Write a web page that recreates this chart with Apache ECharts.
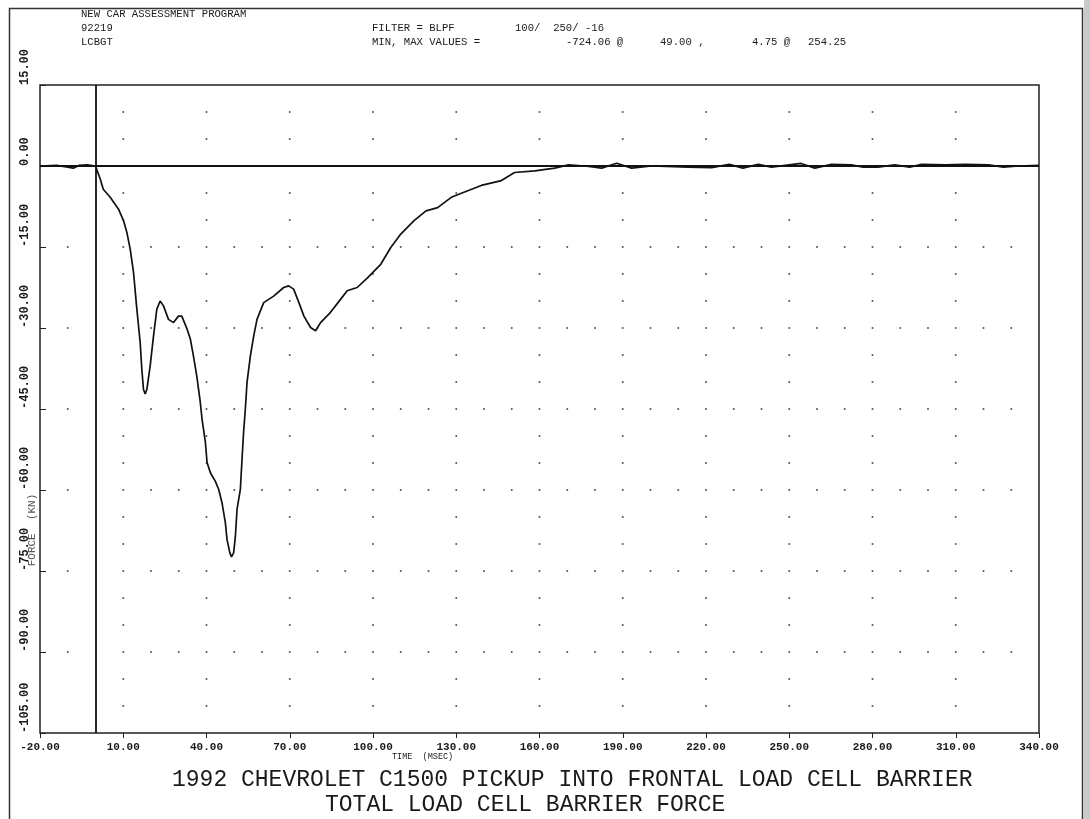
<!DOCTYPE html>
<html>
<head>
<meta charset="utf-8">
<script src="https://cdn.jsdelivr.net/npm/echarts@6/dist/echarts.min.js"></script>
<style>
html,body{margin:0;padding:0;background:#fff;}
#chart{width:1090px;height:819px;}
</style>
</head>
<body>
<div id="chart"></div>
<script>
// ---- data (time in ms, force as on the axis) ----
const timeMs = [-20,-14,-10,-8,-6,-3,0,1.7,2.8,5.3,8.3,10.1,11.3,12.5,13.7,14.9,16.1,16.7,17.3,17.9,18.5,19.7,20.9,22.1,23.3,24.5,26.3,28.1,29.9,31.1,33,34.2,35.3,36.5,37.7,38.4,39.6,40.2,41.4,43.2,44.4,45.6,46.8,47.4,48.4,49,49.8,50.4,51,52.2,52.8,53.4,54,54.6,55.8,57,58.2,60.6,64.2,67.8,69.6,71.4,73.3,75.1,77.5,79.3,81.1,84.7,88.3,90.7,94.3,98,102.8,106.4,110,114.8,119.1,123.3,128.2,133,139,146.3,151,158.3,165.5,170.4,176.4,182.4,187.8,193.2,200.4,213.5,222,228.4,233.3,238.8,243.6,254.25,259.2,265.2,272.4,276.6,282,288,293.4,297.7,306.1,313.3,321.8,327.2,332.7,339.9];
const forceKN = [0,0.1,-0.2,-0.4,0.1,0.2,0,-2.4,-4.3,-5.8,-8,-10.1,-12.3,-15.4,-19.7,-26.5,-32.7,-37.7,-41.4,-42.2,-41.4,-37,-31.5,-26.5,-25,-25.9,-28.4,-29,-27.8,-27.8,-30.2,-32.1,-35.2,-38.9,-43.5,-46.9,-51.2,-54.9,-56.8,-58.4,-59.9,-62.4,-66.1,-69.2,-71.6,-72.4,-71.6,-68.6,-63.6,-59.9,-54.3,-49,-45,-40.1,-35.2,-31.5,-28.4,-25.3,-24.1,-22.5,-22.2,-22.8,-25.3,-27.8,-29.9,-30.5,-29,-27.1,-24.7,-23.1,-22.5,-20.7,-18.2,-15.1,-12.6,-10.1,-8.3,-7.7,-5.8,-4.8,-3.6,-2.7,-1.2,-0.9,-0.4,0.2,0,-0.4,0.5,-0.4,0,-0.2,-0.3,0.3,-0.4,0.3,-0.2,0.475,-0.4,0.3,0.2,-0.2,-0.2,0.2,-0.2,0.3,0.2,0.3,0.2,-0.2,0,0.1];
const xTickValues = [-20,10,40,70,100,130,160,190,220,250,280,310,340];
const yTickValues = [-105,-90,-75,-60,-45,-30,-15,0,15];
const headerLines = ['NEW CAR ASSESSMENT PROGRAM','92219','LCBGT'];
const filterText = ['FILTER = BLPF','100/  250/ -16'];
const minMaxText = ['MIN, MAX VALUES =','-724.06 @','49.00 ,','4.75 @','254.25'];
const titleLine1 = '1992 CHEVROLET C1500 PICKUP INTO FRONTAL LOAD CELL BARRIER';
const titleLine2 = 'TOTAL LOAD CELL BARRIER FORCE';
const xName = 'TIME  (MSEC)';
const yName = 'FORCE  (KN)';

// ---- build ----
const seriesData = timeMs.map((t, i) => [t, forceKN[i]]);
const xMin = xTickValues[0], xMax = xTickValues[xTickValues.length - 1];
const yMin = yTickValues[0], yMax = yTickValues[yTickValues.length - 1];
// dotted grid: dots every 5 units along major vertical lines, every 10 ms along major horizontal lines
const gridDots = [];
xTickValues.slice(1, -1).forEach(x => {
  for (let y = yMin + 5; y < yMax; y += 5) if (y !== 0) gridDots.push([x, y]);
});
yTickValues.slice(1, -1).forEach(y => {
  if (y === 0) return;
  for (let x = xMin + 10; x < xMax; x += 10) {
    if (x !== 0 && xTickValues.indexOf(x) < 0) gridDots.push([x, y]);
  }
});

const mono = '"Liberation Mono", "DejaVu Sans Mono", monospace';
const chart = echarts.init(document.getElementById('chart'), null, {renderer: 'canvas'});
function txt(text, left, top, size, weight) {
  return {
    type: 'text', left: left, top: top, z: 10,
    style: {text: text, font: (weight || 'normal') + ' ' + size + 'px ' + mono, fill: '#1a1a1a'}
  };
}
const graphics = [
  {type: 'rect', shape: {x: 9.5, y: 8.5, width: 1073, height: 830}, style: {fill: 'none', stroke: '#333', lineWidth: 1.5}, z: 1},
  {type: 'rect', shape: {x: 1084, y: 0, width: 6, height: 819}, style: {fill: '#c9c9c9'}, z: 1},
  txt(headerLines[0], 81, 9, 10.6),
  txt(headerLines[1], 81, 23, 10.6),
  txt(headerLines[2], 81, 37, 10.6),
  txt(filterText[0], 372, 23, 10.6),
  txt(filterText[1], 515, 23, 10.6),
  txt(minMaxText[0], 372, 37, 10.6),
  txt(minMaxText[1], 566, 37, 10.6),
  txt(minMaxText[2], 660, 37, 10.6),
  txt(minMaxText[3], 752, 37, 10.6),
  txt(minMaxText[4], 808, 37, 10.6),
  txt(xName, 392, 752, 8.5),
  txt(titleLine1, 172, 768, 23),
  txt(titleLine2, 325, 793, 23),
  {type: 'text', x: 32, y: 530, rotation: Math.PI / 2, z: 10,
   style: {text: yName, font: 'normal 11px ' + mono, fill: '#555', align: 'center', verticalAlign: 'middle'}}
];

chart.setOption({
  animation: false,
  backgroundColor: '#fff',
  grid: {left: 40, right: 51, top: 85, bottom: 86, show: true, borderColor: '#222', borderWidth: 1.5, containLabel: false},
  xAxis: {
    type: 'value', min: xMin, max: xMax,
    axisLine: {show: false, onZero: false},
    axisTick: {show: true, length: 5, customValues: xTickValues, lineStyle: {color: '#222'}},
    axisLabel: {customValues: xTickValues, margin: 9, fontFamily: mono, fontSize: 11, fontWeight: 'bold', color: '#1a1a1a',
      formatter: v => v.toFixed(2)},
    splitLine: {show: false}
  },
  yAxis: {
    type: 'value', min: yMin, max: yMax, interval: 15,
    axisLine: {show: false, onZero: false},
    axisTick: {show: true, inside: true, length: 6, lineStyle: {color: '#222'}},
    axisLabel: {rotate: 90, margin: 15, fontFamily: mono, fontSize: 12, fontWeight: 'bold', color: '#1a1a1a',
      align: 'left', verticalAlign: 'middle', formatter: v => v.toFixed(2)},
    splitLine: {show: false}
  },
  graphic: graphics,
  series: [
    {
      type: 'custom', silent: true, data: gridDots, z: 1,
      renderItem: function (params, api) {
        const p = api.coord([api.value(0), api.value(1)]);
        return {type: 'circle', shape: {cx: p[0], cy: p[1], r: 1}, style: {fill: '#555'}};
      }
    },
    {
      type: 'line', data: seriesData, showSymbol: false, smooth: false, z: 3,
      lineStyle: {color: '#111', width: 1.7},
      markLine: {
        silent: true, symbol: 'none', label: {show: false},
        lineStyle: {color: '#111', width: 1.8, type: 'solid'},
        data: [{xAxis: 0}, {yAxis: 0}]
      }
    }
  ]
});
</script>
</body>
</html>
